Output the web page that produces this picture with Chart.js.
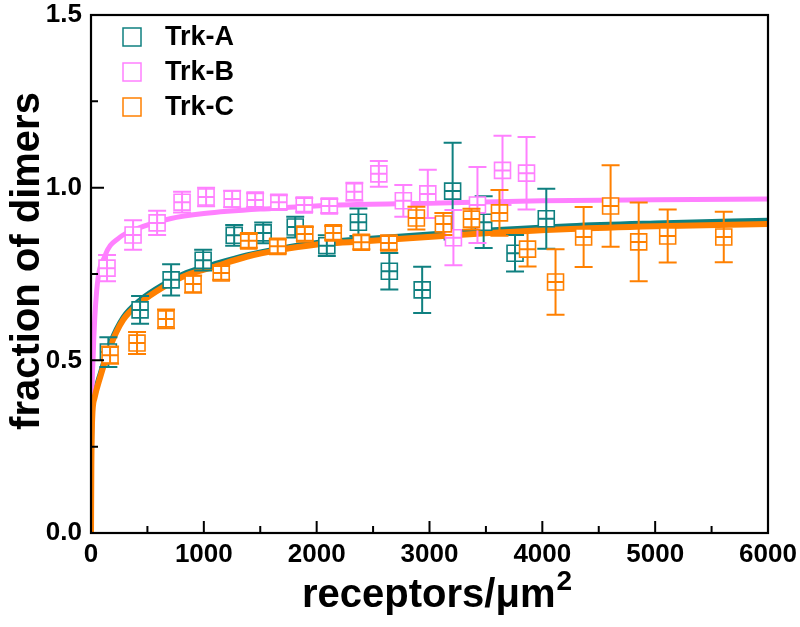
<!DOCTYPE html>
<html>
<head>
<meta charset="utf-8">
<script src="https://cdn.jsdelivr.net/npm/chart.js@4.4.1/dist/chart.umd.min.js"></script>
<style>
  html, body { margin: 0; padding: 0; background: #fff; }
  #wrap { width: 800px; height: 627px; }
</style>
</head>
<body>
<div id="wrap"><canvas id="dimerChart"></canvas></div>
<script>
// measured points (receptors/um^2, fraction of dimers, error)
const trkA_x   = [154, 435, 710, 994, 1269, 1526, 1810, 2090, 2370, 2644, 2935, 3205, 3480, 3758, 4035];
const trkA_y   = [0.524, 0.646, 0.733, 0.79, 0.862, 0.869, 0.886, 0.832, 0.9, 0.758, 0.704, 0.99, 0.9, 0.81, 0.91];
const trkA_err = [0.043, 0.04, 0.045, 0.03, 0.03, 0.03, 0.03, 0.03, 0.04, 0.053, 0.067, 0.14, 0.075, 0.053, 0.087];

const trkB_x   = [142, 373, 586, 807, 1020, 1251, 1455, 1665, 1890, 2112, 2334, 2551, 2768, 2985, 3212, 3425, 3647, 3860];
const trkB_y   = [0.767, 0.863, 0.898, 0.958, 0.973, 0.967, 0.964, 0.958, 0.95, 0.947, 0.988, 1.04, 0.962, 0.982, 0.855, 0.95, 1.05, 1.042];
const trkB_err = [0.038, 0.043, 0.035, 0.03, 0.027, 0.024, 0.02, 0.02, 0.02, 0.02, 0.026, 0.037, 0.046, 0.07, 0.08, 0.11, 0.1, 0.105];

const trkC_x   = [169, 408, 665, 905, 1154, 1398, 1655, 1895, 2147, 2396, 2640, 2884, 3123, 3372, 3620, 3869, 4117, 4366, 4605, 4854, 5111, 5608];
const trkC_y   = [0.515, 0.55, 0.62, 0.721, 0.753, 0.846, 0.83, 0.866, 0.869, 0.842, 0.84, 0.912, 0.895, 0.909, 0.927, 0.822, 0.727, 0.857, 0.947, 0.843, 0.86, 0.857];
const trkC_err = [0.025, 0.032, 0.027, 0.025, 0.02, 0.02, 0.02, 0.02, 0.02, 0.02, 0.02, 0.033, 0.032, 0.03, 0.066, 0.05, 0.095, 0.087, 0.118, 0.114, 0.077, 0.073];

// fitted curves
const fitA_x = [0, 3, 10, 30, 80, 170, 285, 435, 640, 850, 1080, 1380, 1680, 1970, 2325, 3250, 4250, 5000, 6000];
const fitA_y = [0, 0.2, 0.34, 0.4, 0.46, 0.55, 0.625, 0.675, 0.72, 0.755, 0.778, 0.805, 0.825, 0.84, 0.85, 0.872, 0.89, 0.898, 0.906];
const fitB_x = [0, 5, 20, 50, 120, 250, 400, 700, 1000, 1600, 2200, 3000, 4000, 5000, 6000];
const fitB_y = [0, 0.3, 0.52, 0.7, 0.8, 0.855, 0.88, 0.91, 0.925, 0.94, 0.95, 0.955, 0.962, 0.965, 0.967];
const fitC_x = [0, 3, 10, 30, 80, 170, 285, 435, 640, 850, 1080, 1380, 1680, 1970, 2325, 3250, 4250, 5000, 6000];
const fitC_y = [0, 0.19, 0.33, 0.39, 0.45, 0.54, 0.617, 0.666, 0.712, 0.747, 0.77, 0.8, 0.82, 0.834, 0.843, 0.863, 0.88, 0.888, 0.895];

const seriesNames  = ['Trk-A', 'Trk-B', 'Trk-C'];
const seriesColors = ['#0f8080', '#ff80ff', '#ff8000'];
const xTickLabels  = ['0', '1000', '2000', '3000', '4000', '5000', '6000'];
const yTickLabels  = ['0.0', '0.5', '1.0', '1.5'];

const FONT = "'Liberation Sans', Arial, sans-serif";

function pts(xs, ys) { return xs.map((v, i) => ({ x: v, y: ys[i] })); }

function markerSet(name, color, xs, ys, errs) {
  return {
    type: 'scatter', label: name, data: pts(xs, ys), errors: errs,
    pointStyle: 'rect', pointRadius: 11.3, pointHoverRadius: 11.3,
    borderColor: color, backgroundColor: '#fff', borderWidth: 1.6
  };
}
function fitSet(name, color, xs, ys, w) {
  return {
    type: 'line', label: name + ' fit', data: pts(xs, ys),
    borderColor: color, borderWidth: w, pointRadius: 0,
    cubicInterpolationMode: 'monotone', fill: false
  };
}

// error bars drawn right after each marker dataset, so layering follows the dataset order
const errorBars = {
  id: 'errorBars',
  afterDatasetDraw(chart, args) {
    const ds = chart.data.datasets[args.index];
    if (!ds.errors) return;
    const { ctx, scales: { x, y } } = chart;
    ctx.save();
    ctx.strokeStyle = ds.borderColor;
    ctx.lineWidth = 2;
    ds.data.forEach((p, j) => {
      const px = x.getPixelForValue(p.x);
      const cy = y.getPixelForValue(p.y);
      const top = y.getPixelForValue(p.y + ds.errors[j]);
      const bot = y.getPixelForValue(p.y - ds.errors[j]);
      ctx.beginPath();
      ctx.moveTo(px, top); ctx.lineTo(px, bot);
      ctx.moveTo(px - 9, top); ctx.lineTo(px + 9, top);
      ctx.moveTo(px - 9, bot); ctx.lineTo(px + 9, bot);
      ctx.moveTo(px - 8, cy); ctx.lineTo(px + 8, cy);
      ctx.stroke();
    });
    ctx.restore();
  }
};

// frame, inward ticks, legend and axis titles
const decorations = {
  id: 'decorations',
  afterDraw(chart) {
    const { ctx, chartArea: a, scales: { x, y } } = chart;
    ctx.save();
    ctx.strokeStyle = '#000';
    ctx.lineWidth = 2.2;
    ctx.strokeRect(a.left, a.top, a.right - a.left, a.bottom - a.top);
    ctx.lineWidth = 2;
    ctx.beginPath();
    for (let v = 500; v < 6000; v += 500) {
      const px = x.getPixelForValue(v);
      const len = v % 1000 === 0 ? 12 : 7;
      ctx.moveTo(px, a.bottom); ctx.lineTo(px, a.bottom - len);
    }
    for (let v = 0.25; v < 1.5; v += 0.25) {
      const py = y.getPixelForValue(v);
      const len = Math.abs(v % 0.5) < 1e-6 ? 13 : 7;
      ctx.moveTo(a.left, py); ctx.lineTo(a.left + len, py);
    }
    ctx.stroke();

    // legend
    const rows = [37, 72, 107];
    ctx.font = 'bold 27px ' + FONT;
    ctx.textBaseline = 'middle';
    ctx.textAlign = 'left';
    seriesNames.forEach((n, i) => {
      ctx.strokeStyle = seriesColors[i];
      ctx.lineWidth = 1.5;
      ctx.strokeRect(123, rows[i] - 9, 18, 18);
      ctx.fillStyle = '#000';
      ctx.fillText(n, 165, rows[i] + 1);
    });

    // axis titles
    ctx.fillStyle = '#000';
    ctx.font = 'bold 40px ' + FONT;
    ctx.textAlign = 'left';
    ctx.textBaseline = 'alphabetic';
    const main = 'receptors/\u03bcm';
    const w1 = ctx.measureText(main).width;
    ctx.font = 'bold 28px ' + FONT;
    const w2 = ctx.measureText('2').width;
    const sx = (a.left + a.right) / 2 - (w1 + w2) / 2 + 7;
    ctx.font = 'bold 40px ' + FONT;
    ctx.fillText(main, sx, 607);
    ctx.font = 'bold 28px ' + FONT;
    ctx.fillText('2', sx + w1 + 1, 590);

    ctx.translate(39, 261);
    ctx.rotate(-Math.PI / 2);
    ctx.font = 'bold 40px ' + FONT;
    ctx.textAlign = 'center';
    ctx.fillText('fraction of dimers', 0, 0);
    ctx.restore();
  }
};

new Chart(document.getElementById('dimerChart').getContext('2d'), {
  data: {
    datasets: [
      markerSet(seriesNames[2], seriesColors[2], trkC_x, trkC_y, trkC_err),
      markerSet(seriesNames[1], seriesColors[1], trkB_x, trkB_y, trkB_err),
      markerSet(seriesNames[0], seriesColors[0], trkA_x, trkA_y, trkA_err),
      fitSet(seriesNames[2], seriesColors[2], fitC_x, fitC_y, 6),
      fitSet(seriesNames[1], seriesColors[1], fitB_x, fitB_y, 5),
      fitSet(seriesNames[0], seriesColors[0], fitA_x, fitA_y, 5)
    ]
  },
  options: {
    responsive: true,
    maintainAspectRatio: false,
    animation: false,
    layout: { padding: { top: 15, right: 32, left: 0, bottom: 0 } },
    plugins: { legend: { display: false }, tooltip: { enabled: false } },
    scales: {
      x: {
        type: 'linear', min: 0, max: 6000,
        grid: { display: false, drawTicks: false }, border: { display: false },
        ticks: {
          stepSize: 1000, padding: 6, color: '#000',
          font: { family: FONT, size: 26, weight: 'bold' },
          callback: (v) => xTickLabels[v / 1000]
        },
        afterFit: (s) => { s.height = 94; s.paddingLeft = 0; s.paddingRight = 0; }
      },
      y: {
        type: 'linear', min: 0, max: 1.5,
        grid: { display: false, drawTicks: false }, border: { display: false },
        ticks: {
          stepSize: 0.5, padding: 9, color: '#000',
          font: { family: FONT, size: 26, weight: 'bold' },
          callback: (v) => yTickLabels[Math.round(v * 2)]
        },
        afterFit: (s) => { s.width = 91; s.paddingTop = 0; s.paddingBottom = 0; }
      }
    }
  },
  plugins: [errorBars, decorations]
});
</script>
</body>
</html>
